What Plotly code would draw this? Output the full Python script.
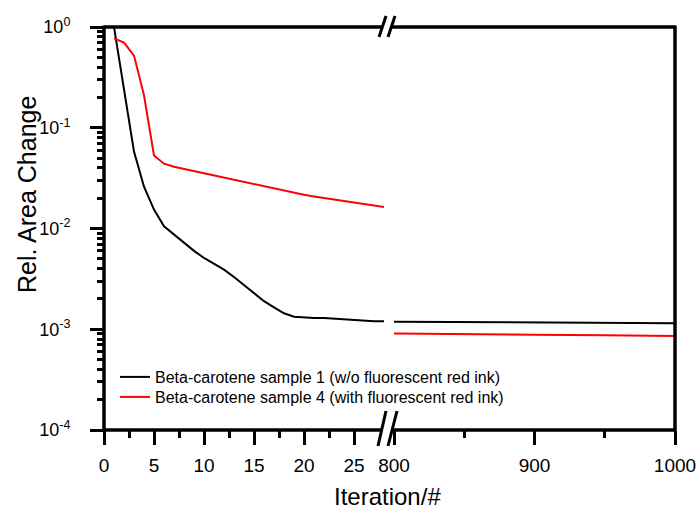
import plotly.graph_objects as go

# ---- data ----
iter_left = list(range(1, 29))
black_left = [1.0, 0.23, 0.058, 0.026, 0.0154, 0.0105, 0.0087, 0.0071, 0.006, 0.0051,
              0.0045, 0.0039, 0.0033, 0.00275, 0.0023, 0.0019, 0.00165, 0.00144, 0.00133,
              0.0013, 0.00129, 0.00129, 0.00127, 0.00125, 0.00122, 0.00121, 0.0012, 0.0012]
red_left = [0.77, 0.70, 0.52, 0.21, 0.053, 0.044, 0.041, 0.039, 0.037, 0.0353,
            0.0337, 0.0321, 0.0306, 0.0291, 0.0277, 0.0263, 0.0249, 0.0236, 0.0225,
            0.0216, 0.0208, 0.0201, 0.0193, 0.0186, 0.0179, 0.0173, 0.0168, 0.0163]
iter_right = [800, 850, 900, 950, 1000]
black_right = [0.00119, 0.00118, 0.00117, 0.00116, 0.00115]
red_right = [0.00091, 0.00089, 0.00088, 0.00087, 0.000857]

series_names = ["Beta-carotene sample 1 (w/o fluorescent red ink)",
                "Beta-carotene sample 4 (with fluorescent red ink)"]
y_tickvals = [1e-4, 1e-3, 1e-2, 1e-1, 1]
y_ticktext = ["10<sup>-4</sup>", "10<sup>-3</sup>", "10<sup>-2</sup>", "10<sup>-1</sup>", "10<sup>0</sup>"]
x_left_ticks = [0, 5, 10, 15, 20, 25]
x_left_minor = [2.5, 7.5, 12.5, 17.5, 22.5]
x_right_ticks = [800, 900, 1000]
x_right_minor = [850, 950]

W, H = 697, 508
L, R, T, B = 104, 675, 27, 430
FONT = "Liberation Sans, Arial, sans-serif"

def px(x):
    return (x - L) / (R - L)

def py(y):
    return (B - y) / (B - T)

fig = go.Figure()
fig.add_trace(go.Scatter(x=iter_left, y=black_left, mode="lines", name=series_names[0],
                         line=dict(color="black", width=2), xaxis="x", yaxis="y",
                         legend="legend"))
fig.add_trace(go.Scatter(x=iter_left, y=red_left, mode="lines", name=series_names[1],
                         line=dict(color="#ff0000", width=2), xaxis="x", yaxis="y",
                         legend="legend2"))
fig.add_trace(go.Scatter(x=iter_right, y=black_right, mode="lines", showlegend=False,
                         line=dict(color="black", width=2), xaxis="x2", yaxis="y"))
fig.add_trace(go.Scatter(x=iter_right, y=red_right, mode="lines", showlegend=False,
                         line=dict(color="#ff0000", width=2), xaxis="x2", yaxis="y"))

xtickfont = dict(family=FONT, size=19, color="black")
ytickfont = dict(family=FONT, size=18, color="black")
common_x = dict(showgrid=False, zeroline=False, showline=False, ticks="outside",
                ticklen=14, tickwidth=2.5, tickcolor="black", tickfont=xtickfont,
                automargin=False, ticklabelstandoff=4)
legfont = dict(family=FONT, size=16, color="black")

fig.update_layout(
    template="none",
    width=W, height=H,
    margin=dict(l=L, r=W - R, t=T, b=H - B, pad=0, autoexpand=False),
    paper_bgcolor="white", plot_bgcolor="white",
    font=dict(family=FONT, color="black"),
    xaxis=dict(domain=[0, px(384)], range=[0, 28], tickvals=x_left_ticks,
               minor=dict(tickvals=x_left_minor, ticks="outside", ticklen=7,
                          tickwidth=2.5, tickcolor="black"),
               anchor="y", **common_x),
    xaxis2=dict(domain=[px(394), 1], range=[800, 1000], tickvals=x_right_ticks,
                minor=dict(tickvals=x_right_minor, ticks="outside", ticklen=7,
                           tickwidth=2.5, tickcolor="black"),
                anchor="y", **common_x),
    yaxis=dict(type="log", range=[-4, 0], tickvals=y_tickvals, ticktext=y_ticktext,
               showgrid=False, zeroline=False, showline=False, ticks="outside",
               ticklen=13, tickwidth=2.5, tickcolor="black", tickfont=ytickfont,
               minor=dict(dtick="D1", ticks="outside", ticklen=6, tickwidth=2.5,
                          tickcolor="black"),
               anchor="x", automargin=False, ticklabelstandoff=16),
    showlegend=True,
    legend=dict(x=px(115), y=py(377), xanchor="left", yanchor="middle",
                bgcolor="rgba(0,0,0,0)", borderwidth=0, font=legfont),
    legend2=dict(x=px(115), y=py(397), xanchor="left", yanchor="middle",
                 bgcolor="rgba(0,0,0,0)", borderwidth=0, font=legfont),
)

shapes = []
lw = 3.5
def seg(x0, y0, x1, y1, w=lw):
    shapes.append(dict(type="line", xref="paper", yref="paper",
                       x0=px(x0), y0=py(y0), x1=px(x1), y1=py(y1),
                       line=dict(color="black", width=w)))

# frame with breaks
seg(L, T, 382.5, T)
seg(391.5, T, R, T)
seg(L, B, 382, B)
seg(392, B, R, B)
seg(L, T - 1.5, L, B + 1.5)
seg(R, T - 1.5, R, B + 1.5)
# break marks top
seg(379, 37, 386, 16, 3)
seg(388, 37, 395, 16, 3)
# break marks bottom
seg(378, 446, 386, 411, 3)
seg(388, 446, 397, 411, 3)

fig.update_layout(shapes=shapes)

fig.add_annotation(text="Iteration/#", xref="paper", yref="paper",
                   x=px(387), y=py(496), xanchor="center", yanchor="middle",
                   height=22, valign="middle",
                   showarrow=False, font=dict(family=FONT, size=24, color="black"))
fig.add_annotation(text="Rel. Area Change", xref="paper", yref="paper",
                   x=px(27), y=py(195), xanchor="center", yanchor="middle",
                   textangle=-90, showarrow=False,
                   font=dict(family=FONT, size=25, color="black"))

fig.write_html("out.html", config={"displayModeBar": False},
               post_script="document.body.style.margin='0';document.body.style.overflow='hidden';")
